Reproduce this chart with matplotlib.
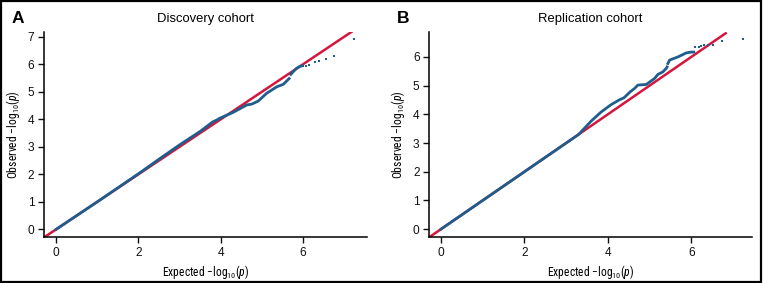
import matplotlib
matplotlib.use("Agg")
import matplotlib.pyplot as plt
from matplotlib.patches import Rectangle

plt.rcParams['font.family'] = ['Liberation Sans', 'DejaVu Sans']
plt.rcParams['mathtext.fontset'] = 'custom'
plt.rcParams['mathtext.rm'] = 'Roboto Condensed'
plt.rcParams['mathtext.it'] = 'Roboto Condensed:italic'

# discovery cohort: expected vs observed -log10(p)
disc_exp = [0, 1.0, 2.0, 2.5, 3.0, 3.5, 3.81, 3.9, 3.98, 4.3, 4.63, 4.75, 4.91,
            5.11, 5.36, 5.52, 5.58, 5.66]
disc_obs = [0, 1.0, 2.02, 2.55, 3.07, 3.56, 3.91, 3.97, 4.04, 4.25, 4.52, 4.55, 4.66,
            4.94, 5.18, 5.27, 5.36, 5.48]
disc_exp2 = [5.70, 5.78, 5.84, 5.92, 5.97]
disc_obs2 = [5.63, 5.76, 5.85, 5.92, 5.94]
disc_tail_exp = [6.0, 6.07, 6.13, 6.29, 6.39, 6.55, 6.76, 7.24]
disc_tail_obs = [5.94, 5.94, 5.96, 6.09, 6.12, 6.2, 6.29, 6.91]

# replication cohort
rep_exp = [0, 1.0, 2.0, 3.0, 3.3, 3.59, 3.83, 4.07, 4.27, 4.39, 4.54, 4.64, 4.72,
           4.92, 5.12, 5.20, 5.32, 5.40, 5.42]
rep_obs = [0, 1.0, 2.0, 3.0, 3.3, 3.75, 4.07, 4.33, 4.5, 4.58, 4.79, 4.9, 5.02,
           5.04, 5.25, 5.39, 5.48, 5.6, 5.65]
rep_exp2 = [5.44, 5.48, 5.68, 5.88, 6.0, 6.06]
rep_obs2 = [5.77, 5.89, 6.0, 6.14, 6.17, 6.17]
rep_tail_exp = [6.10, 6.18, 6.24, 6.31, 6.39, 6.52, 6.74, 7.25]
rep_tail_obs = [6.35, 6.35, 6.37, 6.41, 6.43, 6.41, 6.56, 6.61]

blue = '#1f5d8c'
red = '#d4163c'

fig = plt.figure(figsize=(7.63, 2.83), dpi=100)
fig.patches.append(Rectangle((0.001, 0.003), 0.997, 0.994, transform=fig.transFigure,
                             fill=False, edgecolor='black', linewidth=1.6))

panels = [
    ('A', 'Discovery cohort', [0.0577, 0.161, 0.4233, 0.727], (-0.29, 7.55), (-0.29, 7.18),
     7.2, range(0, 8), disc_exp, disc_obs, disc_exp2, disc_obs2, disc_tail_exp, disc_tail_obs),
    ('B', 'Replication cohort', [0.5627, 0.163, 0.4225, 0.725], (-0.28, 7.45), (-0.27, 6.88),
     6.85, range(0, 7), rep_exp, rep_obs, rep_exp2, rep_obs2, rep_tail_exp, rep_tail_obs),
]

for (letter, title, rect, xl, yl, rend, yt, ex, ob, ex2, ob2, tx, ty) in panels:
    ax = fig.add_axes(rect)
    ax.plot([-0.3, rend], [-0.3, rend], color=red, lw=1.8, zorder=2, solid_capstyle='butt')
    ax.plot(ex, ob, color=blue, lw=2.0, zorder=3)
    ax.plot(ex2, ob2, color=blue, lw=2.0, zorder=3)
    ax.plot(tx, ty, 's', color=blue, markersize=1.8, markeredgewidth=0, zorder=3)
    ax.set_xlim(*xl)
    ax.set_ylim(*yl)
    ax.set_xticks([0, 2, 4, 6])
    ax.set_yticks(list(yt))
    for s in ['top', 'right']:
        ax.spines[s].set_visible(False)
    for s in ['left', 'bottom']:
        ax.spines[s].set_linewidth(1.1)
    ax.tick_params(length=4, width=1.0, labelsize=8.6, pad=3, colors='#111111')
    ax.set_xlabel(r'Expected $-$log$_{10}$($\it{p}$)', family='Roboto Condensed',
                  fontsize=8.4, labelpad=3)
    ax.set_ylabel(r'Observed $-$log$_{10}$($\it{p}$)', family='Roboto Condensed',
                  fontsize=8.4, labelpad=4)
    ax.set_title(title, fontsize=9.4, pad=7)
    fig.text(rect[0] - 0.043, 0.918, letter, fontsize=12.5, fontweight='bold')

plt.savefig('out.png', dpi=100)
